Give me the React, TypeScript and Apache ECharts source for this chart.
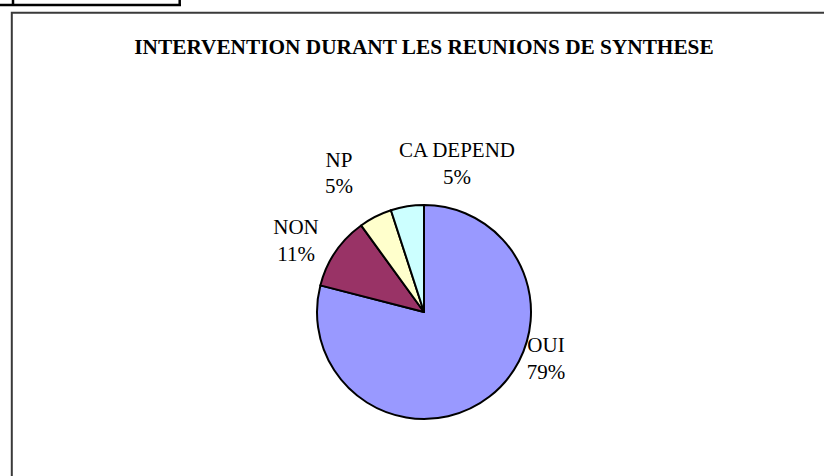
import React, { useEffect, useRef } from "react";
import * as echarts from "echarts";

const TITLE = "INTERVENTION DURANT LES REUNIONS DE SYNTHESE";
const categories = ["OUI", "NON", "NP", "CA DEPEND"];
const values = [79, 11, 5, 5];
const colors = ["#9999FF", "#993366", "#FFFFCC", "#CCFFFF"];

// label anchor positions relative to pie centre, in units of the radius
const labelFactors: [number, number][] = [
  [1.14, 0.435],
  [-1.196, -0.67],
  [-0.794, -1.3],
  [0.308, -1.39],
];

const CX = 424;
const CY = 312;
const R = 107;

export default function App() {
  const ref = useRef<HTMLDivElement>(null);
  useEffect(() => {
    if (!ref.current) return;
    const chart = echarts.init(ref.current, undefined, { renderer: "svg" });
    const total = values.reduce((a, b) => a + b, 0);
    chart.setOption({
      animation: false,
      backgroundColor: "#ffffff",
      graphic: [
        {
          type: "rect",
          silent: true,
          shape: { x: 11.8, y: 12.7, width: 900, height: 600 },
          style: { fill: "none", stroke: "#3a3a3a", lineWidth: 2 },
        },
        {
          type: "line",
          silent: true,
          shape: { x1: 0, y1: 5, x2: 181, y2: 5 },
          style: { stroke: "#000", lineWidth: 2.5 },
        },
        {
          type: "line",
          silent: true,
          shape: { x1: 13, y1: 0, x2: 13, y2: 5 },
          style: { stroke: "#000", lineWidth: 2.5 },
        },
        {
          type: "line",
          silent: true,
          shape: { x1: 179.7, y1: 0, x2: 179.7, y2: 6 },
          style: { stroke: "#000", lineWidth: 2.5 },
        },
        {
          type: "text",
          silent: true,
          x: 424,
          y: 47,
          style: {
            text: TITLE,
            fill: "#000",
            font: 'bold 21.3px "Liberation Serif", "Times New Roman", serif',
            align: "center",
            verticalAlign: "middle",
          },
        },
      ],
      series: [
        {
          type: "pie",
          center: [CX, CY],
          radius: R,
          startAngle: 90,
          clockwise: true,
          silent: true,
          emphasis: { disabled: true },
          itemStyle: { borderColor: "#000", borderWidth: 2 },
          label: {
            show: true,
            position: "outside",
            color: "#000",
            fontFamily: '"Liberation Serif", "Times New Roman", serif',
            fontSize: 21,
            lineHeight: 26.5,
            align: "center",
            formatter: (p: any) =>
              p.name + "\n" + Math.round((p.value / total) * 100) + "%",
          },
          labelLine: { show: false },
          labelLayout: (params: any) => {
            const f = labelFactors[params.dataIndex];
            return {
              x: CX + f[0] * R,
              y: CY + f[1] * R,
              align: "center",
              verticalAlign: "middle",
              hideOverlap: false,
            };
          },
          data: categories.map((c, i) => ({
            name: c,
            value: values[i],
            itemStyle: { color: colors[i] },
          })),
        },
      ],
    });
    return () => chart.dispose();
  }, []);
  return (
    <div
      ref={ref}
      style={{
        position: "fixed",
        left: 0,
        top: 0,
        width: 824,
        height: 476,
        background: "#fff",
      }}
    />
  );
}
